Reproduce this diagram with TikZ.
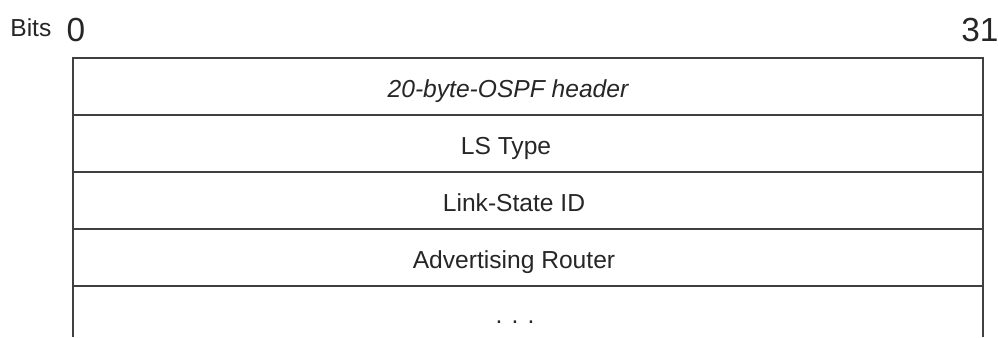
\documentclass[tikz,border=0pt]{standalone}
\usepackage{fontspec}
\setmainfont{Liberation Sans}

\begin{document}
\begin{tikzpicture}[
    field/.style={font=\fontsize{14}{17}\selectfont, text=black!85, anchor=base},
    bitnum/.style={font=\fontsize{19}{22}\selectfont, text=black!85, inner sep=0pt, anchor=base},
    frame/.style={line width=1pt, draw=black!75}
  ]
      % \draw[very thin, gray, step=.5cm] (0,0) grid (20,7);
      \useasboundingbox (0,0) rectangle (19.96,6.74);

      \node[field, inner sep=0pt, anchor=base west] (bits) at (0.2,6.02) {Bits};
      \node[bitnum] (b0) at (1.52,5.91) {0};
      \node[bitnum] (b31) at (19.6,5.91) {31};

      \draw[frame] (1.46,0) -- (1.46,5.58) -- (19.66,5.58) -- (19.66,0) ;
      \draw[frame] (1.46,4.44) -- (19.66,4.44) ;
      \draw[frame] (1.46,3.30) -- (19.66,3.30) ;
      \draw[frame] (1.46,2.16) -- (19.66,2.16) ;
      \draw[frame] (1.46,1.02) -- (19.66,1.02) ;

      \node[field, font=\fontsize{14}{17}\selectfont\itshape] (hdr) at (10.16,4.80) {20-byte-OSPF header};
      \node[field] (lstype) at (10.12,3.66) {LS Type};
      \node[field] (lsid) at (10.28,2.52) {Link-State ID};
      \node[field] (advrtr) at (10.28,1.38) {Advertising Router};
      \node[field] (more) at (10.3,0.28) {. . .};
\end{tikzpicture}
\end{document}
